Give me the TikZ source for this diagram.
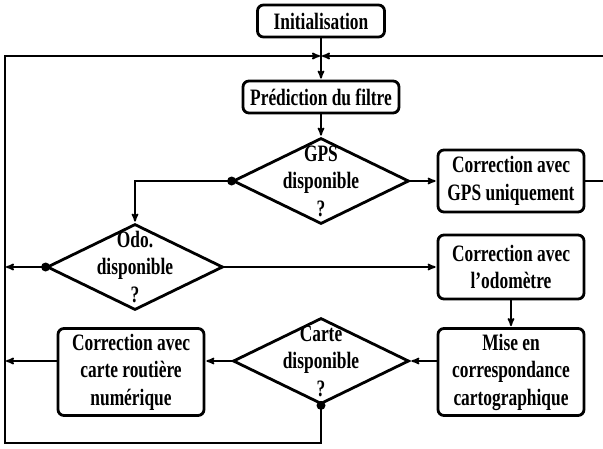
\documentclass[tikz,border=0pt]{standalone}
\usepackage{fontspec}
\setmainfont{Liberation Serif}[FakeStretch=0.74]
\usetikzlibrary{arrows,shapes.geometric,positioning}

\begin{document}
\begin{tikzpicture}[x=1pt,y=-1pt,->,>=stealth',shorten >=1pt,line width=1.7pt]
		\tikzstyle{box}=[draw,rounded corners=6pt,line width=2.8pt,align=center,
		inner sep=0pt,font=\bfseries\fontsize{23.5}{27.5}\selectfont]
		\tikzstyle{cond}=[draw,diamond,line width=2.8pt,inner sep=0pt,
		minimum width=176pt,minimum height=86pt]
		\tikzstyle{condtext}=[align=center,inner sep=0pt,
		font=\bfseries\fontsize{23.5}{27.5}\selectfont]
		
		\useasboundingbox (0,0) rectangle (603,448);
		
		\node[box,minimum width=127pt,minimum height=32pt] (init) at (321,21) {Initialisation};
		\node[box,minimum width=156pt,minimum height=32pt] (pred) [below of=init,node distance=76pt] {Pr\'ediction du filtre};
		\node[cond,label={[condtext]center:GPS\\disponible\\?}] (gps) [below of=pred,node distance=84pt] {};
		\node[box,minimum width=146pt,minimum height=62pt] (gpscorr) [right of=gps,node distance=190pt] {Correction avec\\GPS uniquement};
		\node[cond,label={[condtext]center:Odo.\\disponible\\?}] (odo) at (135,267) {};
		\node[box,minimum width=146pt,minimum height=64pt] (odocorr) [right of=odo,node distance=376pt] {Correction avec\\l’odom\`etre};
		\node[box,minimum width=146pt,minimum height=87pt] (mise) [below of=odocorr,node distance=105pt] {Mise en\\correspondance\\cartographique};
		\node[cond,label={[condtext]center:Carte\\disponible\\?}] (carte) at (321,361) {};
		\node[box,minimum width=146pt,minimum height=87pt] (cartecorr) [left of=mise,node distance=380pt] {Correction avec\\carte routi\`ere\\num\'erique};
		
		\coordinate (jn) at (321,56);
		\coordinate (bl) at (5,443);
		\coordinate (tr) at (612,56);
		
		% chemin principal
		\draw (init) -- (pred);
		\draw (pred) -- (gps);
		\draw (gps) -- (gpscorr);
		\draw (gps.west) -| (odo.north);
		\draw (odo) -- (odocorr);
		\draw (odocorr) -- (mise);
		\draw (mise.west |- carte) -- (carte);
		\draw (carte) -- (cartecorr.east |- carte);
		
		% retours
		\draw (odo.west) -- (bl |- odo);
		\draw (cartecorr.west |- carte) -- (bl |- carte);
		\draw (carte.south) |- (bl) |- (jn);
		\draw (gpscorr.east) -| (tr) -- (jn);
		
		\fill (gps.west) circle (4.5);
		\fill (odo.west) circle (4.5);
		\fill (carte.south) circle (4.5);
\end{tikzpicture}
\end{document}
